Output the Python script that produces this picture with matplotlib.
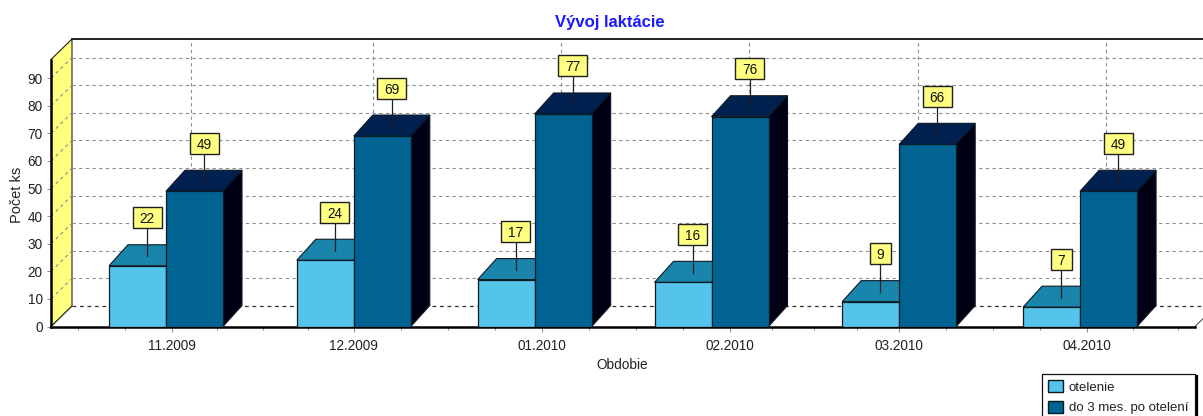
"""Vyvoj laktacie - fake 3D column chart on a monthly date axis."""
import numpy as np
import matplotlib
matplotlib.use('Agg')
import matplotlib.pyplot as plt
from matplotlib.patches import Patch, Polygon, Rectangle

plt.rcParams['font.family'] = ['Liberation Sans', 'DejaVu Sans']

months = ['11.2009', '12.2009', '01.2010', '02.2010', '03.2010', '04.2010']
month_days = [0, 30, 61, 92, 120, 151]  # days since 1.11.2009
otelenie = [22, 24, 17, 16, 9, 7]
do_3_mes = [49, 69, 77, 76, 66, 49]
bar_shift_px = [-6, 0, -7, -18, 0, -7]  # the columns don't sit exactly on the ticks
minor_edges = [-31, 0, 30, 61, 92, 120, 151, 181]

W, H = 1203, 416
PX_X = 1 / 6.06  # days per pixel
PX_Y = 1 / 2.76  # count per pixel

LIGHT = ('#55C4EA', '#1A85AB', '#0F5F7C')
DARK = ('#006392', '#00204F', '#000014')
YELLOW = '#FFFF80'
GRID = '#8C8C8C'
DASH = (0, (3.0, 3.0))

fig = plt.figure(figsize=(W / 100, H / 100), dpi=100)
ax = fig.add_axes([51 / W, (H - 326.5) / H, (1216 - 51) / W, (326.5 - 39) / H])
x_limits = (-121 * PX_X, 1044 * PX_X)
ax.set_xlim(*x_limits)
ax.set_ylim(0, 287.5 * PX_Y)

x_left, x_top = ax.get_xlim()[0], ax.get_ylim()[1]
wall_dx, wall_dy = 21 * PX_X, 20.5 * PX_Y
bar_dx, bar_dy = 19 * PX_X, 21 * PX_Y
front_right = x_left + 1144 * PX_X
y_front_top = x_top - wall_dy
back_right = x_limits[1]


def draw_walls():
    # left wall
    ax.add_patch(Polygon([(x_left, 0), (x_left + wall_dx, wall_dy), (x_left + wall_dx, x_top),
                          (x_left, y_front_top)], fc=YELLOW, ec='#202020', lw=0.8, zorder=1))
    ticks = np.arange(10, 100, 10)
    for v in ticks:
        ax.plot([x_left, x_left + wall_dx], [v, v + wall_dy], color=GRID, lw=0.8, ls=DASH, zorder=2)
        ax.plot([x_left + wall_dx, back_right], [v + wall_dy, v + wall_dy], color=GRID, lw=0.8, ls=DASH, zorder=2)
    # back wall verticals sit on the month ticks
    for d in month_days:
        ax.plot([d + bar_dx] * 2, [wall_dy, x_top], color=GRID, lw=0.8, ls=DASH, zorder=2)
    # floor and top edge
    ax.plot([x_left + wall_dx, back_right], [wall_dy, wall_dy], color='#303030', lw=0.9, ls=DASH, zorder=2)
    ax.plot([x_left + wall_dx, back_right], [x_top, x_top], color='#101010', lw=1.3, clip_on=False, zorder=2)
    ax.plot([x_left, x_left + wall_dx], [0, wall_dy], color='#404040', lw=0.7, zorder=2)
    ax.plot([front_right, front_right + wall_dx], [0, wall_dy], color='#404040', lw=0.7, clip_on=False, zorder=2)


def draw_columns(lefts, values, width, colors, z):
    front, top, side = colors
    edge = '#0C1A24'
    for left, v in zip(lefts, values):
        right = left + width
        ax.add_patch(Polygon([(left, v), (right, v), (right + bar_dx, v + bar_dy), (left + bar_dx, v + bar_dy)],
                             fc=top, ec=edge, lw=0.8, zorder=z))
        ax.add_patch(Polygon([(right, 0), (right + bar_dx, bar_dy), (right + bar_dx, v + bar_dy), (right, v)],
                             fc=side, ec=edge, lw=0.8, zorder=z))
    ax.bar(lefts, values, width, align='edge', color=front, edgecolor=edge, lw=0.9, zorder=z + 2)


def draw_marks(centers, values):
    for c, v in zip(centers, values):
        x = c + bar_dx / 2
        tip = v + 9.5 * PX_Y
        box_y = tip + 28 * PX_Y
        half = (14.5 if v >= 10 else 10.5) * PX_X
        ax.plot([x, x], [tip, box_y], color='#202020', lw=0.9, zorder=8)
        ax.add_patch(Rectangle((x - half, box_y), 2 * half, 21 * PX_Y, fc=YELLOW, ec='#202020', lw=1.0, zorder=9))
        ax.text(x, box_y + 10.5 * PX_Y, str(v), ha='center', va='center_baseline', fontsize=9.8,
                color='#111111', zorder=10)


draw_walls()

boundary = np.array(month_days) + np.array(bar_shift_px) * PX_X
width = 57 * PX_X
draw_columns(boundary - width, otelenie, width, LIGHT, 3)
draw_columns(boundary, do_3_mes, width, DARK, 4)
draw_marks(boundary - width / 2, otelenie)
draw_marks(boundary + width / 2, do_3_mes)

# axes frame
for s in ['top', 'right']:
    ax.spines[s].set_visible(False)
ax.spines['bottom'].set_bounds(x_left, front_right)
ax.spines['bottom'].set_linewidth(1.8)
ax.spines['bottom'].set_zorder(2.5)
ax.spines['left'].set_bounds(0, y_front_top)
ax.spines['left'].set_linewidth(1.8)

minor = []
for a, b in zip(minor_edges[:-1], minor_edges[1:]):
    minor += [m for m in np.linspace(a, b, 5)[1:-1] if x_limits[0] < m < x_limits[1]]
ax.set_xticks(month_days, months)
ax.set_xticks(minor, minor=True)
ax.set_yticks(np.arange(0, 100, 10))
ax.tick_params(axis='x', which='major', length=3.6, width=0.7, color=GRID, labelsize=9.8,
               labelcolor='#222222', pad=5.5)
ax.tick_params(axis='x', which='minor', length=2.5, width=0.7, color=GRID)
ax.tick_params(axis='y', length=3, width=0.7, color=GRID, labelsize=9.8, labelcolor='#222222', pad=3)

fig.text(610 / W, 1 - 22 / H, 'Vývoj laktácie', color='#1A1AFF', fontsize=12, fontweight='bold',
         ha='center', va='center')
fig.text(17 / W, 1 - 195 / H, 'Počet ks', rotation=90, fontsize=10.5, color='#222222', ha='center', va='center')
fig.text(622 / W, 1 - 365 / H, 'Obdobie', fontsize=9.8, color='#222222', ha='center', va='center')

handles = [Patch(fc=LIGHT[0], ec='#0C1A24', label='otelenie'),
           Patch(fc=DARK[0], ec='#0C1A24', label='do 3 mes. po otelení')]
leg = fig.legend(handles=handles, loc='upper left', bbox_to_anchor=(1041.5 / W, 1 - 373.5 / H),
                 borderaxespad=0, fontsize=9.5, fancybox=False, framealpha=1, edgecolor='#101010',
                 shadow={'color': 'black', 'alpha': 1, 'ox': 1.4, 'oy': -1.4}, borderpad=0.5, handlelength=1.15,
                 handleheight=1.0, handletextpad=0.4, labelspacing=0.55, labelcolor='#222222')
leg.get_frame().set_linewidth(0.9)

fig.savefig('out.png', dpi=100)
